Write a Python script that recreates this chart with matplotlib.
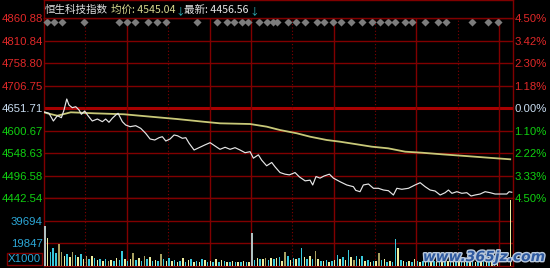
import numpy as np
import matplotlib
matplotlib.use('Agg')
import matplotlib.pyplot as plt
import matplotlib.patheffects as pe

# minutes since 9:30 (lunch break folded out: 0-150 am, 150-330 pm, close auction to 340)
price_min = [0, 1.2, 3.6, 6.8, 9.7, 12.6, 14.5, 16.5, 18.1, 20.5, 23.0, 25.4, 27.1, 29.5, 31.9,
             35.0, 38.7, 42.3, 44.7, 47.1, 49.5, 52.0, 53.7, 56.8, 59.2, 62.4, 66.5, 70.1, 73.7,
             76.9, 80.3, 83.4, 85.8, 88.3, 91.4, 94.3, 96.7, 100.3, 102.8, 105.2, 108.8, 112.4,
             116.5, 120.4, 124.0, 127.6, 131.3, 134.9, 138.5, 142.1, 145.8, 149.4, 151.8, 155.4,
             157.8, 161.4, 165.1, 167.5, 171.1, 174.7, 177.9, 182.0, 185.1, 189.3, 192.9, 194.8,
             197.2, 200.1, 203.0, 206.9, 209.8, 214.6, 219.5, 224.3, 226.0, 229.1, 231.5, 235.2,
             238.8, 242.4, 246.1, 249.7, 253.3, 255.8, 259.4, 264.2, 269.0, 272.7, 276.3, 279.9,
             283.5, 287.2, 290.8, 293.2, 295.7, 299.3, 302.9, 306.5, 309.6, 312.5, 316.2, 319.8,
             323.4, 327.0, 331.9, 335.5, 337.2, 339.1]
price_val = [4643.0, 4642.4, 4640.1, 4622.2, 4634.5, 4629.9, 4647.8, 4673.3, 4659.4, 4653.1,
             4655.4, 4647.8, 4637.8, 4645.4, 4634.5, 4622.2, 4626.8, 4620.6, 4626.8, 4619.2,
             4628.5, 4636.1, 4640.1, 4620.6, 4612.9, 4609.0, 4611.3, 4605.2, 4593.6, 4580.4,
             4578.0, 4583.4, 4585.7, 4575.7, 4580.4, 4589.7, 4588.0, 4582.0, 4583.4, 4570.4,
             4554.8, 4560.2, 4566.4, 4571.8, 4564.1, 4556.4, 4561.1, 4556.4, 4560.2, 4554.8,
             4548.5, 4550.9, 4535.8, 4543.5, 4531.2, 4518.1, 4525.8, 4515.6, 4502.4, 4498.6,
             4497.0, 4502.4, 4492.4, 4483.1, 4484.7, 4473.5, 4493.1, 4489.4, 4494.3, 4498.6,
             4489.4, 4481.1, 4473.5, 4469.5, 4461.0, 4457.9, 4473.5, 4475.8, 4465.8, 4465.8,
             4461.8, 4460.2, 4450.2, 4465.8, 4463.5, 4465.8, 4473.5, 4478.8, 4469.5, 4461.8,
             4459.5, 4450.2, 4455.6, 4461.8, 4454.1, 4457.9, 4454.1, 4455.6, 4447.9, 4450.2,
             4452.5, 4457.9, 4455.6, 4452.5, 4452.5, 4452.5, 4457.9, 4456.6]

avg_min = [0, 2.4, 9.7, 19.4, 36.3, 58.0, 77.4, 96.4, 115.3, 127.6, 149.4, 161.5, 171.1, 183.3,
           192.9, 205.0, 214.6, 226.8, 237.6, 249.5, 261.8, 273.9, 288.4, 305.3, 322.0, 338.0]
avg_val = [4642.4, 4640.1, 4634.5, 4642.4, 4640.1, 4637.8, 4632.2, 4626.8, 4620.6, 4616.8,
           4615.2, 4609.0, 4601.2, 4593.6, 4585.7, 4578.0, 4574.1, 4568.0, 4562.5, 4558.7,
           4550.9, 4548.5, 4544.8, 4540.9, 4536.9, 4533.2]

# volume (x1000), one bar every 2 minutes
am_vol = [34700, 24900, 12300, 16000, 11000, 19300, 12000, 9000, 10500, 8000,
          12500, 9500, 7500, 10000, 6000, 9000, 5500, 8500, 6500, 5000,
          6000, 4500, 5500, 4000, 5000, 4500, 6500, 5000, 13100, 5500,
          4500, 6000, 11600, 5000, 6500, 4000, 8500, 6000, 7500, 4500,
          5000, 4000, 10700, 5500, 4500, 7000, 4000, 5000, 3500, 4500,
          6500, 3500, 5000, 5500, 3000, 4500, 3500, 5600, 5000, 3000,
          4500, 3000, 5500, 3500, 5000, 4000, 3500, 3000, 4500, 3000,
          3500, 3000, 4000, 3000, 3500]
am_col = "wycccooycy" "ocycyocycy" "cycoycyccy" "cyocycocyc" "ycocycycyc" "ycycycycyc" "ycycycycyc" "ycycy"
pm_vol = [29300, 5000, 6500, 5500, 6000, 7000, 5000, 6500, 5500, 6700,
          7500, 4500, 12400, 9000, 5000, 6500, 5500, 7000, 16000, 7500,
          5500, 9000, 6000, 13300, 5500, 4500, 4000, 5000, 3500, 4500,
          5000, 9500, 5500, 7500, 5000, 14000, 8000, 5000, 8500, 6000,
          8500, 4500, 5000, 3500, 4500, 4000, 11000, 5000, 5500, 3500,
          4000, 3500, 23600, 15400, 5000, 4500, 3500, 4000, 3000, 5600,
          4000, 3500, 4500, 3000, 5000, 3500, 4500, 3000, 5500, 4000,
          3500, 4500, 3000, 5000, 3500, 4000, 3000, 4500, 3500, 5500,
          4000, 3000, 6000, 4500, 5500, 3500, 5000, 4000, 3000, 3500]
pm_col = "wcycyocycy" "cyocycyccy" "cycoycycyc" "ycycycyocy" "cycycyocyc" "yccycycycy" "cycycycycy" "cycycycycy" "cycycycycy"
close_min = 338
close_vol = 58000

tick_labels = ['4442.54', '4496.58', '4548.63', '4600.67', '4651.71', '4706.75', '4758.80', '4810.84', '4860.88']
pct_labels = ['4.50%', '3.33%', '2.22%', '1.10%', '0.00%', '1.18%', '2.30%', '3.42%', '4.50%']
vol_ticks = [19847, 39694]
event_min = [2, 7.5, 12.8, 29.2, 54.6, 60, 66, 75.6, 82.1, 88.3, 111.2, 125.7, 132.5, 138, 143.4,
             148.2, 156.1, 161.5, 166.3, 168.7, 177.2, 182.5, 189.3, 197.8, 203.3, 209.8, 215.4,
             222.6, 230.4, 238.1, 243.7, 249.2, 254.5, 261.8, 267.1, 276.3, 285.9, 291.3, 310.6,
             321.8, 329.4]
solid_min = [60, 120, 150, 210, 270, 330]
dotted_min = [30, 90, 180, 240, 300]

RED = '#e02828'
GREEN = '#10d010'
GRID = '#800000'
colmap = {'c': '#38c8dc', 'y': '#eeeea0', 'o': '#a8a060', 'w': '#b0c0c0'}
lab_font = 'Liberation Sans'

fig = plt.figure(figsize=(5.5, 2.68), dpi=100, facecolor='black')
L, W = 44 / 550, 469 / 550
ax = fig.add_axes([L, 1 - 198.3 / 268, W, 180 / 268])
axv = fig.add_axes([L, 1 - 265.7 / 268, W, 67.4 / 268], sharex=ax)
axh = fig.add_axes([L, 1 - 18.3 / 268, W, 18 / 268])

lo, hi = 4442.54, 4860.88
ypos = np.linspace(lo, hi, 9)
for a in (ax, axv, axh):
    a.set_facecolor('black')
    for s in a.spines.values():
        s.set_color(GRID)
        s.set_linewidth(1.0)
axh.set_xticks([])
axh.set_yticks([])

ax.set_xlim(0, 340)
ax.set_ylim(lo, hi)
for i, y in enumerate(ypos[1:-1], start=1):
    if i == 4:
        ax.axhline(y, color='#a80000', lw=2.2, zorder=1)
    else:
        ax.axhline(y, color=GRID, lw=1.0, zorder=1)
for a in (ax, axv):
    for m in solid_min:
        a.axvline(m, color=GRID, lw=1.0, zorder=1)
    for m in dotted_min:
        a.axvline(m, color=GRID, lw=0.8, ls=(0, (1, 2)), zorder=1)

ax.plot(avg_min, avg_val, color='#c8c878', lw=1.3, zorder=3)
ax.plot(price_min, price_val, color='#e6e6e6', lw=0.85, zorder=4)
ax.scatter(event_min, [4853.0] * len(event_min), marker='D', s=17, color='#7c7c7c',
           zorder=5, clip_on=False, linewidths=0)

ax.set_yticks(ypos)
ax.set_yticklabels(tick_labels)
ax.tick_params(axis='y', length=0, pad=1, labelsize=8.2)
ax.tick_params(axis='x', length=0, labelbottom=False)
for i, t in enumerate(ax.get_yticklabels()):
    t.set_fontfamily(lab_font)
    t.set_color(GREEN if i < 4 else ('#c8dcf0' if i == 4 else RED))

ax2 = ax.twinx()
ax2.set_ylim(lo, hi)
ax2.set_yticks(ypos)
ax2.set_yticklabels(pct_labels)
ax2.tick_params(axis='y', length=0, pad=1, labelsize=8.2)
for s in ax2.spines.values():
    s.set_visible(False)
for i, t in enumerate(ax2.get_yticklabels()):
    t.set_fontfamily(lab_font)
    t.set_color(GREEN if i < 4 else ('#c8dcf0' if i == 4 else RED))

# volume bars
am_x = np.arange(len(am_vol)) * 2 + 0.7
pm_x = 150 + np.arange(len(pm_vol)) * 2 + 0.7
axv.bar(am_x, am_vol, width=1.1, color=[colmap[c] for c in am_col], linewidth=0, zorder=3)
axv.bar(pm_x, pm_vol, width=1.1, color=[colmap[c] for c in pm_col], linewidth=0, zorder=3)
axv.bar([close_min + 0.3], [close_vol], width=0.8, color=colmap['y'], linewidth=0, zorder=3)
axv.set_ylim(0, 3 * vol_ticks[0])
for v in vol_ticks:
    axv.axhline(v, color=GRID, lw=1.0, zorder=1)
axv.set_yticks(vol_ticks)
axv.set_yticklabels([str(v) for v in vol_ticks])
axv.tick_params(axis='y', length=0, pad=1, labelsize=8.2, labelcolor='#2ca8d8')
axv.tick_params(axis='x', length=0, labelbottom=False)
for t in axv.get_yticklabels():
    t.set_fontfamily(lab_font)
axv.text(-0.006, 0.1, 'X1000', transform=axv.transAxes, ha='right', va='center',
         fontsize=8.2, family=lab_font, color='#2ca8d8',
         bbox=dict(boxstyle='square,pad=0.1', fc='black', ec=GRID, lw=1))

# header texts
fam = ['Noto Sans CJK SC', 'DejaVu Sans']
hy = 1 - 9.5 / 268
fig.text(44.5 / 550, hy, '恒生科技指数', color='#e0e0e0', fontsize=7.6, family=fam, va='center')
fig.text(111 / 550, hy, '均价: 4545.04', color='#d8d890', fontsize=7.6, family=fam, va='center')
fig.text(175 / 550, hy - 0.006, '↓', color='#30b8c0', fontsize=7, family=fam, va='center')
fig.text(184 / 550, hy, '最新: 4456.56', color='#e8e8e8', fontsize=7.6, family=fam, va='center')
fig.text(249 / 550, hy - 0.006, '↓', color='#30b8c0', fontsize=7, family=fam, va='center')

# watermark
fig.text(484 / 550, 1 - 257 / 268, 'www.365jz.com', color='#2f5aa0', fontsize=10,
         fontweight='bold', style='italic', ha='center', va='center', family='DejaVu Sans',
         path_effects=[pe.withStroke(linewidth=2, foreground='#b8c8dc')])

fig.savefig('out.png', dpi=100, facecolor='black')
